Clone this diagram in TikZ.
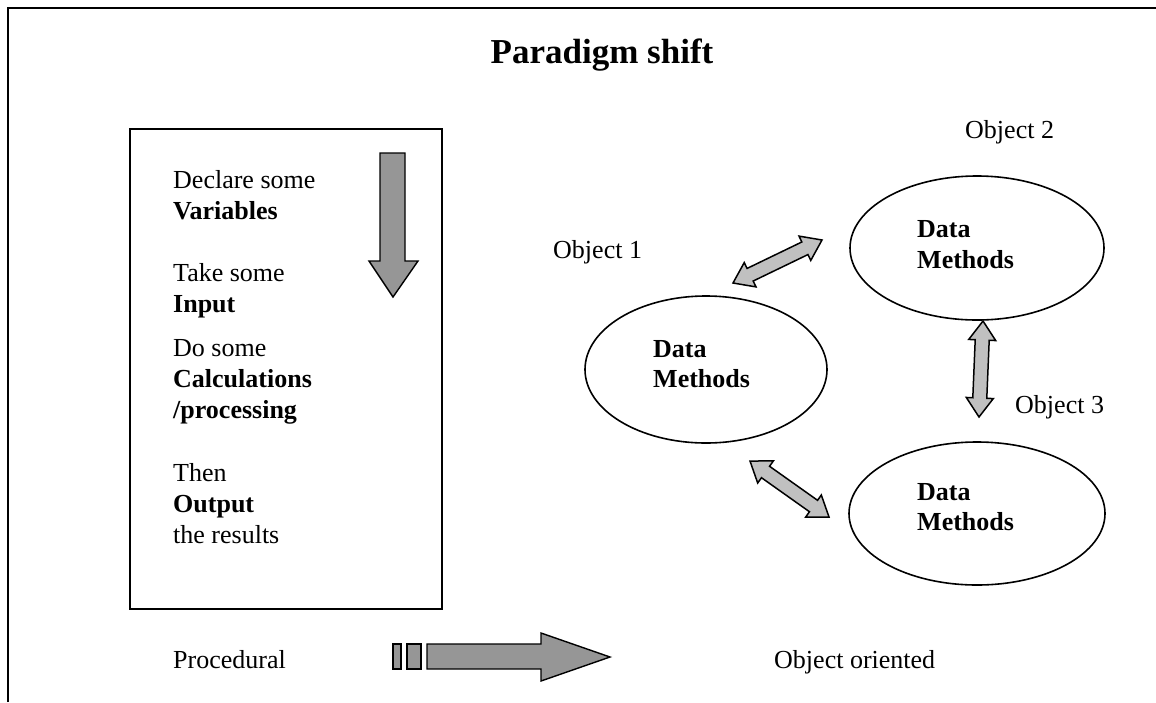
\documentclass[tikz,border=0pt]{standalone}
\usepackage{fontspec}
\setmainfont{Liberation Serif}
\usetikzlibrary{shapes.geometric,calc}

\tikzset{
  txt/.style={anchor=base west, inner sep=0pt, font=\fontsize{26}{30}\selectfont},
  btxt/.style={txt, font=\fontsize{26}{30}\selectfont\bfseries},
  object/.style={draw, line width=1.6pt, ellipse, inner sep=0pt},
  bigarrow/.style={draw, line width=1.4pt, fill=arrowgray, line join=miter},
  linkarrow/.style={draw, line width=1.5pt, fill=linkgray, line join=miter}
}
\definecolor{arrowgray}{RGB}{150,150,150}
\definecolor{linkgray}{RGB}{192,192,192}

% double-headed block arrow between two named coordinates
\newcommand\linkbetween[2]{%
  \coordinate (#1h) at ($(#1)!19pt!(#2)$);
  \coordinate (#2h) at ($(#2)!19pt!(#1)$);
  \path[linkarrow] (#1)
    -- ($(#1h)!13.5pt!90:(#2)$) -- ($(#1h)!7pt!90:(#2)$)
    -- ($(#2h)!7pt!-90:(#1)$) -- ($(#2h)!13.5pt!-90:(#1)$)
    -- (#2)
    -- ($(#2h)!13.5pt!90:(#1)$) -- ($(#2h)!7pt!90:(#1)$)
    -- ($(#1h)!7pt!-90:(#2)$) -- ($(#1h)!13.5pt!-90:(#2)$)
    -- cycle;
}

\begin{document}
\begin{tikzpicture}[x=1pt, y=-1pt]
\useasboundingbox (0,0) rectangle (1156,702);

% outer frame (top and left edges)
\draw[line width=2.7pt] (8,702) -- (8,8) -- (1156,8);

% title
\node[anchor=base, inner sep=0pt, font=\fontsize{35}{40}\selectfont\bfseries] (title) at (602,63) {Paradigm shift};

% procedural box
\draw[line width=2pt] (130,129) rectangle (442,609);
\node[txt]  (l1)  at (173,188) {Declare some};
\node[btxt] (l2)  at (173,219) {Variables};
\node[txt]  (l3)  at (173,281) {Take some};
\node[btxt] (l4)  at (173,312) {Input};
\node[txt]  (l5)  at (173,356) {Do some};
\node[btxt] (l6)  at (173,387) {Calculations};
\node[btxt] (l7)  at (173,418) {/processing};
\node[txt]  (l8)  at (173,481) {Then};
\node[btxt] (l9)  at (173,512) {Output};
\node[txt]  (l10) at (173,543) {the results};

% downward flow arrow
\path[bigarrow] (380,153) -- (405,153) -- (405,261) -- (418,261) -- (393,297)
  -- (369,261) -- (380,261) -- cycle;

% objects
\node[object, minimum width=242pt, minimum height=147pt] (o1) at (706,369.5) {};
\node[object, minimum width=254pt, minimum height=144pt] (o2) at (977,248) {};
\node[object, minimum width=256pt, minimum height=143pt] (o3) at (977,513.5) {};

\node[btxt] (d1) at (653,357) {Data};
\node[btxt] (m1) at (653,387) {Methods};
\node[btxt] (d2) at (917,237) {Data};
\node[btxt] (m2) at (917,268) {Methods};
\node[btxt] (d3) at (917,500) {Data};
\node[btxt] (m3) at (917,530) {Methods};

\node[txt] (n1) at (553,258) {Object 1};
\node[txt] (n2) at (965,138) {Object 2};
\node[txt] (n3) at (1015,413) {Object 3};

% links between objects
\coordinate (pa) at (733,283);
\coordinate (pb) at (822,240);
\coordinate (pc) at (983,321);
\coordinate (pd) at (979,417);
\coordinate (pe) at (750,461);
\coordinate (pf) at (829,517);
\linkbetween{pa}{pb}
\linkbetween{pc}{pd}
\linkbetween{pe}{pf}

% shift arrow
\node[txt] (proc) at (173,668) {Procedural};
\node[txt] (oo) at (774,668) {Object oriented};
\path[bigarrow] (393,644) rectangle (401,669);
\path[bigarrow] (407,644) rectangle (421,669);
\path[bigarrow] (427,644) -- (541,644) -- (541,633) -- (610,657) -- (541,681)
  -- (541,669) -- (427,669) -- cycle;
\end{tikzpicture}
\end{document}
